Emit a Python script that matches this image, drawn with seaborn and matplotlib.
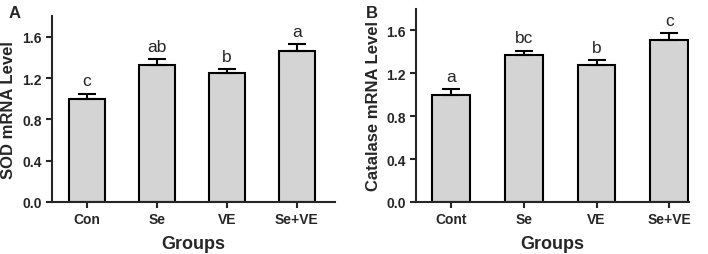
import numpy as np
import pandas as pd
import matplotlib
matplotlib.use("Agg")
import matplotlib.pyplot as plt
import seaborn as sns

# Relative mRNA levels
groups_a = ["Con", "Se", "VE", "Se+VE"]
sod_mean = [1.00, 1.33, 1.25, 1.46]
sod_err = [0.05, 0.055, 0.04, 0.07]
sod_letters = ["c", "ab", "b", "a"]

groups_b = ["Cont", "Se", "VE", "Se+VE"]
cat_mean = [1.00, 1.37, 1.275, 1.515]
cat_err = [0.05, 0.04, 0.05, 0.06]
cat_letters = ["a", "bc", "b", "c"]

yticks = [0.0, 0.4, 0.8, 1.2, 1.6]

sns.set_style("ticks")
plt.rcParams["font.family"] = ["Liberation Sans", "DejaVu Sans"]


def draw_panel(ax, groups, means, errs, letters, ylabel, xlim):
    df = pd.DataFrame({"group": groups, "level": means})
    sns.barplot(data=df, x="group", y="level", color="#d4d4d4",
                edgecolor="black", linewidth=1.5, width=0.52,
                saturation=1, ax=ax)
    x = np.arange(len(groups))
    ax.errorbar(x, means, yerr=[np.zeros(len(errs)), errs], fmt="none",
                ecolor="black", elinewidth=1.5, capsize=6.5, capthick=1.5)
    for xi, m, e, lab in zip(x, means, errs, letters):
        ax.text(xi, m + e + 0.05, lab, ha="center", va="bottom", fontsize=12.5)
    ax.set_ylim(0, 1.8)
    ax.set_xlim(*xlim)
    ax.set_yticks(yticks)
    ax.set_yticklabels([f"{t:.1f}" for t in yticks], fontsize=10,
                       fontweight="bold")
    ax.set_xticks(x)
    ax.set_xticklabels(groups, fontsize=10, fontweight="bold")
    ax.set_xlabel("Groups", fontsize=13, fontweight="bold", labelpad=6)
    ax.set_ylabel(ylabel, fontsize=12, fontweight="bold")
    ax.tick_params(axis="both", width=1.5, length=4, direction="out")
    for side in ["top", "right"]:
        ax.spines[side].set_visible(False)
    for side in ["left", "bottom"]:
        ax.spines[side].set_linewidth(1.5)
    return ax


fig = plt.figure(figsize=(7.08, 2.55), dpi=100)
ax1 = fig.add_axes([0.0734, 0.204, 0.400, 0.729])
ax2 = fig.add_axes([0.5876, 0.204, 0.3856, 0.757])

draw_panel(ax1, groups_a, sod_mean, sod_err, sod_letters,
           "SOD mRNA Level", (-0.5, 3.55))
draw_panel(ax2, groups_b, cat_mean, cat_err, cat_letters,
           "Catalase mRNA Level", (-0.48, 3.27))

fig.text(0.012, 0.975, "A", fontsize=12, fontweight="bold", va="top")
fig.text(0.517, 0.975, "B", fontsize=12, fontweight="bold", va="top")

fig.savefig("out.png", dpi=100)
